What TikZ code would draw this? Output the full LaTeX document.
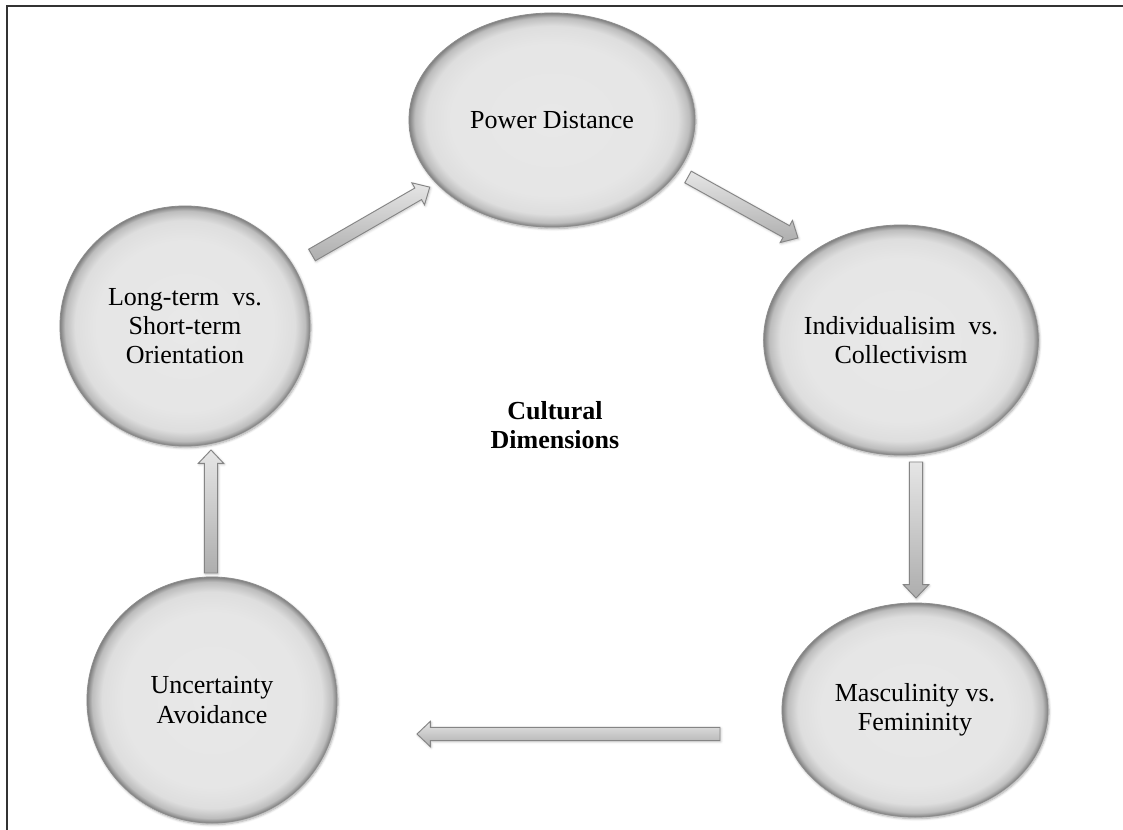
\documentclass[tikz,border=0pt]{standalone}
\usepackage{fontspec}
\setmainfont{Liberation Serif}
\usetikzlibrary{shapes.geometric,arrows.meta,shadows.blur,calc}
\pgfdeclareradialshading{bubble}{\pgfpoint{0bp}{0bp}}{color(0bp)=(black!9); color(18bp)=(black!10); color(22bp)=(black!13); color(24bp)=(black!26); color(25bp)=(black!50); color(26bp)=(black!50)}
\tikzset{
  arrbody/.style={draw=black!48, line width=0.7pt, top color=black!10, middle color=white, bottom color=black!32,
    blur shadow={shadow blur steps=4, shadow xshift=0.6pt, shadow yshift=-0.8pt, shadow opacity=25}},
  pics/harrow/.style={code={
    \path[arrbody] (0pt,-5pt) -- ({#1*1pt-10pt},-5pt) -- ({#1*1pt-10pt},-9.5pt) -- ({#1*1pt},0pt)
      -- ({#1*1pt-10pt},9.5pt) -- ({#1*1pt-10pt},5pt) -- (0pt,5pt) -- cycle;}}
}
\newcommand{\hollowarrow}[2]{%
  \path let \p1=($(#2)-(#1)$), \n1={atan2(\y1,\x1)}, \n2={veclen(\x1,\y1)} in
    (#1) pic[rotate=\n1] {harrow=\n2};}
\begin{document}
\begin{tikzpicture}[x=0.75pt,y=-0.75pt,
  sz/.style 2 args={minimum width=#1*0.75pt, minimum height=#2*0.75pt},
  bub/.style={ellipse, shading=bubble, draw=black!45, line width=0.6pt,
    inner sep=0pt, outer sep=0pt, align=center,
    font=\fontsize{19.5}{22}\selectfont,
    blur shadow={shadow blur steps=6, shadow xshift=0.8pt, shadow yshift=-1.2pt, shadow opacity=35}},
  frameline/.style={draw=black!80, line width=1.6pt}
]
\useasboundingbox (0,0) rectangle (1123,830);
\draw[frameline] (7,830) -- (7,6) -- (1123,6);

\node[bub, sz={286}{214}] (pd) at (552,120) {Power Distance};
\node[bub, sz={272}{230}] (ind) at (901,340) {Individualisim\ \ vs.\\Collectivism};
\node[bub, sz={266}{214}] (mas) at (915,710) {Masculinity vs.\\Femininity};
\node[bub, sz={250}{246}] (ua) at (212,700) {Uncertainty\\Avoidance};
\node[bub, sz={250}{240}] (lt) at (185,326) {Long-term\ \ vs.\\Short-term\\Orientation};
\node[font=\bfseries\fontsize{19.5}{22}\selectfont, align=center] (cd) at (555,425) {Cultural\\Dimensions};

\coordinate (a1s) at (312,255); \coordinate (a1e) at (430,187);
\coordinate (a2s) at (688,177); \coordinate (a2e) at (798,238);
\coordinate (a3s) at (916,462); \coordinate (a3e) at (916,598);
\coordinate (a4s) at (720,734); \coordinate (a4e) at (417,734);
\coordinate (a5s) at (211,573); \coordinate (a5e) at (211,450);

\hollowarrow{a1s}{a1e}
\hollowarrow{a2s}{a2e}
\hollowarrow{a3s}{a3e}
\hollowarrow{a4s}{a4e}
\hollowarrow{a5s}{a5e}
\end{tikzpicture}
\end{document}
